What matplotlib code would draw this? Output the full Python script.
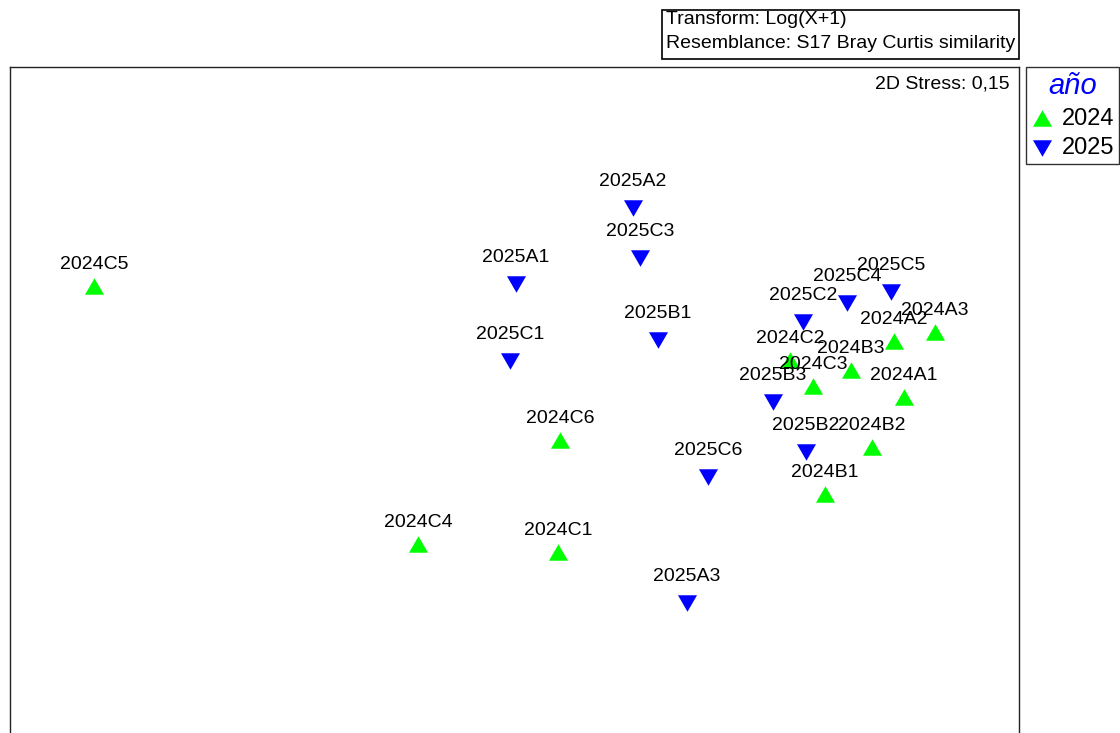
import matplotlib
matplotlib.use('Agg')
import matplotlib.pyplot as plt
from matplotlib.patches import Rectangle

plt.rcParams['font.family'] = ['Liberation Sans', 'DejaVu Sans']

# nMDS ordination (plot units, y grows downward)
labels_2024 = ['2024C5', '2024C6', '2024C4', '2024C1', '2024C2', '2024C3',
               '2024B3', '2024A2', '2024A3', '2024A1', '2024B2', '2024B1']
x_2024 = [94, 560, 418, 558, 790, 813, 851, 894, 935, 904, 872, 825]
y_2024 = [286, 440, 544, 552, 360, 386, 370, 341, 332, 397, 447, 494]

labels_2025 = ['2025A2', '2025C3', '2025A1', '2025B1', '2025C1', '2025C6',
               '2025A3', '2025C5', '2025C4', '2025C2', '2025B3', '2025B2']
x_2025 = [633, 640, 516, 658, 510, 708, 687, 891, 847, 803, 773, 806]
y_2025 = [208, 258, 284, 340, 361, 477, 603, 292, 303, 322, 402, 452]

stress_text = '2D Stress: 0,15'
info_lines = ['Transform: Log(X+1)', 'Resemblance: S17 Bray Curtis similarity']

W, H = 1120, 733
fig = plt.figure(figsize=(W / 100, H / 100), dpi=100)

# axes frame runs past the bottom edge, as in the original export
x0, x1, y0, y1 = 10, 1019, 67, 760
ax = fig.add_axes([x0 / W, 1 - y1 / H, (x1 - x0) / W, (y1 - y0) / H])
ax.set_xlim(x0, x1)
ax.set_ylim(y1, y0)
ax.set_xticks([])
ax.set_yticks([])
for sp in ax.spines.values():
    sp.set_color('#222222')
    sp.set_linewidth(1.0)

up = [(-1, -0.866), (1, -0.866), (0, 0.866)]
down = [(-1, 0.866), (1, 0.866), (0, -0.866)]
msize = 13.7 ** 2

h24 = ax.scatter(x_2024, y_2024, marker=up, s=msize, color='#00ff00',
                 linewidths=0, zorder=2, label='2024')
h25 = ax.scatter(x_2025, y_2025, marker=down, s=msize, color='#0000ff',
                 linewidths=0, zorder=2, label='2025')

for lab, x, y in zip(labels_2024, x_2024, y_2024):
    ax.annotate(lab, (x, y), xytext=(0, 17), textcoords='offset pixels',
                ha='center', va='baseline', fontsize=14, zorder=3)
for lab, x, y in zip(labels_2025, x_2025, y_2025):
    ax.annotate(lab, (x, y), xytext=(0, 22), textcoords='offset pixels',
                ha='center', va='baseline', fontsize=14, zorder=3)

ax.text(1010, 84, stress_text, ha='right', va='center', fontsize=14)

# info box at the top
fig.patches.append(Rectangle((662 / W, 1 - 59 / H), (1019 - 662) / W, 49 / H,
                             transform=fig.transFigure, fill=False,
                             edgecolor='black', linewidth=1.2))
fig.text(666 / W, 1 - 20 / H, info_lines[0], ha='left', va='center', fontsize=14)
fig.text(666 / W, 1 - 44 / H, info_lines[1], ha='left', va='center', fontsize=14)

# legend
leg = fig.legend(handles=[h24, h25], loc='upper right',
                 bbox_to_anchor=(1119 / W, 1 - 67 / H), frameon=True,
                 fancybox=False, edgecolor='black', fontsize=17,
                 title='año', title_fontsize=21, borderpad=0.2,
                 handletextpad=0.4, labelspacing=0.33, handlelength=0.9,
                 borderaxespad=0, markerscale=1.0)
leg.get_frame().set_linewidth(1.0)
leg.get_title().set_color('#0000ff')
leg.get_title().set_style('italic')

fig.savefig('out.png', dpi=100)
